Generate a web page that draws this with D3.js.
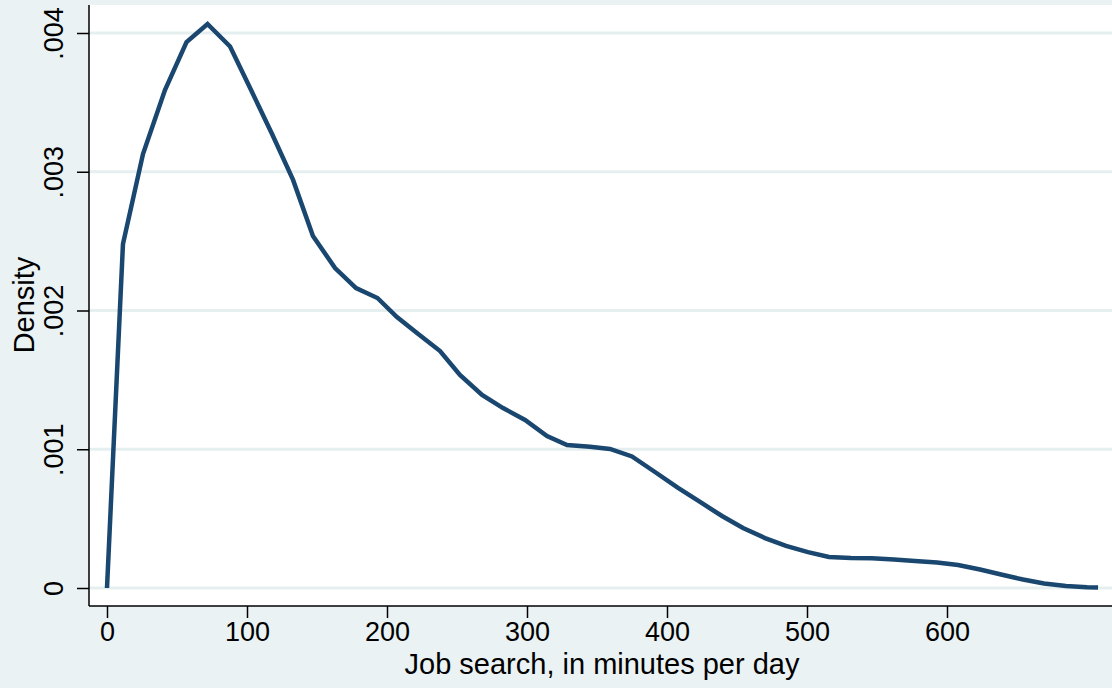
<!DOCTYPE html>
<html>
<head>
<meta charset="utf-8">
<script src="https://cdn.jsdelivr.net/npm/d3@7"></script>
<style>
  body { margin: 0; background: #eaf2f3; }
  svg { display: block; font-family: "Liberation Sans", Arial, sans-serif; }
</style>
</head>
<body>
<svg id="chart" width="1112" height="688"></svg>
<script>
// kernel density of job search time (minutes per day)
const minutes = [0, 11.4, 25.7, 41.4, 56.8, 71.8, 87.9, 102.9, 117.9, 132.9,
  147.1, 162.9, 177.9, 193.2, 207.1, 221.4, 237.9, 252.1, 267.9, 282.9,
  298.6, 314.3, 328.6, 345, 359.3, 375, 391.4, 407.9, 423.6, 439.3,
  454.3, 470, 485, 500.7, 515.7, 531.4, 546.4, 562.1, 577.1, 592.9,
  607.9, 623.6, 638.6, 654.3, 669.3, 685, 700, 707.9];
const density = [0, 0.002479, 0.003128, 0.003589, 0.003935, 0.004065, 0.003903, 0.003589, 0.003272, 0.002941,
  0.002537, 0.002306, 0.002162, 0.00209, 0.001953, 0.001838, 0.001708, 0.001535, 0.001391, 0.001297,
  0.001211, 0.001095, 0.001031, 0.001018, 0.001002, 0.000948, 0.000836, 0.000721, 0.00062, 0.000519,
  0.000432, 0.00036, 0.000303, 0.000259, 0.000223, 0.000216, 0.000214, 0.000205, 0.000195, 0.000184,
  0.000166, 0.000133, 0.000097, 0.000061, 0.000032, 0.000014, 0.000005, 0.000003];

const xTicks = [0, 100, 200, 300, 400, 500, 600];
const yTicks = [0, 0.001, 0.002, 0.003, 0.004];
const yTickLabels = ["0", ".001", ".002", ".003", ".004"];

const xTitle = "Job search, in minutes per day";
const yTitle = "Density";

// plot region
const W = 1112, H = 688;
const plotLeft = 89, plotTop = 5, plotBottom = 606;

const svg = d3.select("#chart");

const x = d3.scaleLinear().domain([0, 700]).range([107, 1087]);
const y = d3.scaleLinear().domain([0, 0.004]).range([588, 33]);

svg.append("rect")
  .attr("width", W).attr("height", H)
  .attr("fill", "#eaf2f3");

svg.append("rect")
  .attr("x", plotLeft).attr("y", plotTop)
  .attr("width", W - plotLeft).attr("height", plotBottom - plotTop)
  .attr("fill", "white");

// gridlines
svg.append("g")
  .selectAll("line")
  .data(yTicks)
  .enter()
  .append("line")
  .attr("x1", plotLeft).attr("x2", W)
  .attr("y1", d => y(d)).attr("y2", d => y(d))
  .attr("stroke", "#e6eff0")
  .attr("stroke-width", 3);

// density line
const line = d3.line()
  .x((d, i) => x(minutes[i]))
  .y(d => y(d));

svg.append("path")
  .datum(density)
  .attr("d", line)
  .attr("fill", "none")
  .attr("stroke", "#1a476f")
  .attr("stroke-width", 4.5)
  .attr("stroke-linejoin", "miter");

// x axis
const xAxis = svg.append("g")
  .attr("transform", "translate(0," + plotBottom + ")")
  .call(d3.axisBottom(x).tickValues(xTicks).tickSize(12).tickPadding(4).tickSizeOuter(0));
xAxis.select(".domain").remove();
xAxis.append("line")
  .attr("x1", plotLeft).attr("x2", W)
  .attr("stroke", "#000").attr("stroke-width", 1.5);
xAxis.selectAll(".tick line").attr("stroke", "#000").attr("stroke-width", 1.5);
xAxis.selectAll(".tick text")
  .attr("font-size", 27).attr("fill", "#000")
  .attr("font-family", "Liberation Sans, Arial, sans-serif");

// y axis
const yAxis = svg.append("g")
  .attr("transform", "translate(" + plotLeft + ",0)")
  .call(d3.axisLeft(y).tickValues(yTicks)
    .tickFormat((d, i) => yTickLabels[i])
    .tickSize(12).tickSizeOuter(0));
yAxis.select(".domain").remove();
yAxis.append("line")
  .attr("y1", plotTop).attr("y2", plotBottom)
  .attr("stroke", "#000").attr("stroke-width", 1.5);
yAxis.selectAll(".tick line").attr("stroke", "#000").attr("stroke-width", 1.5);
yAxis.selectAll(".tick text")
  .attr("font-size", 27).attr("fill", "#000")
  .attr("font-family", "Liberation Sans, Arial, sans-serif")
  .attr("x", null).attr("dy", null)
  .attr("text-anchor", "middle")
  .attr("transform", "translate(-26,0) rotate(-90)");

// axis titles
svg.append("text")
  .attr("x", 602).attr("y", 674)
  .attr("text-anchor", "middle")
  .attr("font-size", 29)
  .text(xTitle);

svg.append("text")
  .attr("transform", "translate(34,305) rotate(-90)")
  .attr("text-anchor", "middle")
  .attr("font-size", 29)
  .text(yTitle);
</script>
</body>
</html>
